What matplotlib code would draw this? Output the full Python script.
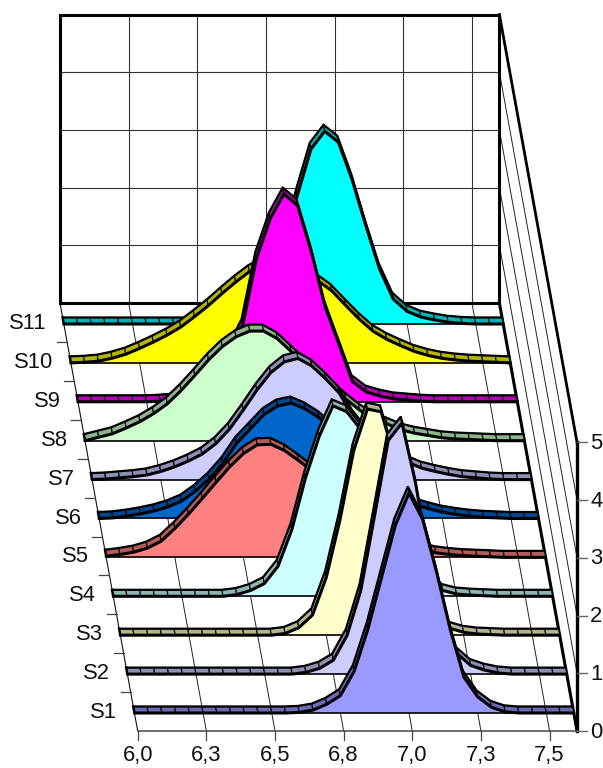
import matplotlib
matplotlib.use("Agg")
import matplotlib.pyplot as plt

plt.rcParams['font.family'] = ['Liberation Sans', 'DejaVu Sans']

series_names = ["S1", "S2", "S3", "S4", "S5", "S6", "S7", "S8", "S9", "S10", "S11"]
x_labels = ["6,0", "6,3", "6,5", "6,8", "7,0", "7,3", "7,5"]
z_labels = ["0", "1", "2", "3", "4", "5"]

s1 = [0,0,0,0,0,0,0,0,0,0,0,0,.01,.05,.15,.3,.72,1.45,2.35,3.25,3.81,3.35,2.45,1.45,.62,.28,.1,.02,0,0,0,0,0]
s2 = [0,0,0,0,0,0,0,0,0,0,0,0,0,.03,.1,.24,.67,1.45,2.74,4.05,4.35,3.3,1.9,.85,.36,.15,.07,.02,0,0,0,0,0]
s3 = [0,0,0,0,0,0,0,0,0,0,0,0,.03,.13,.35,1.0,2.0,3.2,3.92,3.87,3.05,1.4,.7,.3,.12,.05,.02,.01,0,0,0,0,0]
s4 = [0,0,0,0,0,0,0,0,0,.03,.1,.22,.52,1.15,2.05,2.77,3.3,3.2,2.9,2.4,1.7,1.1,.6,.3,.1,.04,.02,.01,0,0,0,0,0]
s5 = [.02,.05,.09,.16,.28,.5,.75,1.02,1.3,1.57,1.8,1.95,1.96,1.85,1.68,1.5,1.3,1.1,.9,.7,.55,.38,.25,.14,.08,.05,.03,.02,.01,0,0,0,0]
s6 = [0,.01,.04,.08,.13,.2,.3,.47,.68,.95,1.3,1.55,1.8,1.95,2.0,1.9,1.75,1.55,1.3,1.05,.85,.62,.45,.24,.17,.11,.07,.04,.02,.01,0,0,0]
s7 = [0,.01,.03,.05,.08,.14,.22,.32,.44,.62,.87,1.2,1.55,1.85,2.04,2.1,1.97,1.75,1.5,1.1,.8,.58,.42,.3,.2,.14,.09,.05,.03,.01,0,0,0]
s8 = [0,.06,.12,.22,.33,.47,.64,.87,1.13,1.4,1.63,1.8,1.9,1.9,1.77,1.55,1.33,1.12,.93,.72,.53,.38,.29,.19,.13,.09,.05,.03,.02,.01,0,0,0]
s9 = [0,0,0,0,0,0,.01,.03,.08,.2,.45,.85,1.32,2.48,3.17,3.6,3.4,2.6,1.65,1.0,.35,.17,.1,.05,.03,.01,0,0,0,0,0,0,0]
s10 = [0,.01,.03,.08,.15,.25,.36,.48,.62,.8,.99,1.2,1.4,1.58,1.7,1.78,1.74,1.6,1.42,1.25,1.0,.76,.55,.41,.3,.2,.13,.08,.05,.03,.02,.01,0]
s11 = [0,0,0,0,0,0,0,0,0,0,.01,.02,.05,.12,.3,.7,1.35,2.22,3.03,3.34,3.15,2.5,1.7,.95,.43,.22,.12,.07,.03,.01,0,0,0]
all_series = [s1, s2, s3, s4, s5, s6, s7, s8, s9, s10, s11]

face_colors = ["#9999FF", "#CCCCFF", "#FFFFCC", "#CCFFFF", "#FF8080", "#0066CC",
               "#CCCCFF", "#CCFFCC", "#FF00FF", "#FFFF00", "#00FFFF"]
ribbon_colors = ["#6B6BB3", "#8F8FB3", "#B3B38F", "#8FB3B3", "#B35A5A", "#00478F",
                 "#8F8FB3", "#8FB38F", "#B300B3", "#B3B300", "#00B3B3"]

PX_X, PX_Z, X0, Y0 = 13.73, 57.7, 137.7, 731.0
SHEAR_X, SHEAR_Z = -7.06 / PX_X, 38.9 / PX_Z
N_BANDS, N_IDX, Z_MAX = 11, 32, 5
FRONT, BACK = 0.463, 0.63


def proj(i, d, z):
    return i + SHEAR_X * d, z + SHEAR_Z * d


fig = plt.figure(figsize=(6.03, 7.68), dpi=100)
ax = fig.add_axes([0, 0, 1, 1])
ax.set_xlim(-X0 / PX_X, (603 - X0) / PX_X)
ax.set_ylim((Y0 - 768) / PX_Z, Y0 / PX_Z)
ax.set_axis_off()


def line(p, q, lw, c="black", zo=1, **kw):
    ax.plot([p[0], q[0]], [p[1], q[1]], color=c, lw=lw, zorder=zo,
            solid_capstyle="projecting", **kw)


GRID = "#333333"
# back wall grid
for z in range(1, Z_MAX):
    line(proj(0, N_BANDS, z), proj(N_IDX, N_BANDS, z), 0.8, GRID)
    line(proj(N_IDX, N_BANDS, z), proj(N_IDX, 0, z), 0.7, "#222222")
for k in range(1, 7):
    line(proj(5 * k, N_BANDS, 0), proj(5 * k, N_BANDS, Z_MAX), 0.8, GRID)
    line(proj(5 * k, N_BANDS, 0), proj(5 * k, 0, 0), 0.7, "#222222")
# walls
line(proj(0, N_BANDS, 0), proj(0, 0, 0), 0.8, "#111111")
line(proj(0, N_BANDS, 0), proj(0, N_BANDS, Z_MAX), 2.2)
line(proj(0, N_BANDS, Z_MAX), proj(N_IDX, N_BANDS, Z_MAX), 2.2)
line(proj(N_IDX, N_BANDS, 0), proj(N_IDX, N_BANDS, Z_MAX), 2.2)
line(proj(0, N_BANDS, 0), proj(N_IDX, N_BANDS, 0), 2.2)
line(proj(N_IDX, N_BANDS, Z_MAX), proj(N_IDX, 0, Z_MAX), 2.0)
line(proj(N_IDX, N_BANDS, 0), proj(N_IDX, 0, 0), 2.2)
line(proj(N_IDX, 0, 0), proj(N_IDX, 0, Z_MAX), 2.4)
line(proj(0, 0, 0), proj(N_IDX, 0, 0), 1.2, "#555555")

# ticks and labels
TICK = "#666666"
for k, lab in enumerate(x_labels):
    p = proj(5 * k, 0, 0)
    ax.plot([p[0], p[0]], [p[1], p[1] - 9 / PX_Z], color="#444444", lw=0.9, zorder=1)
    ax.text(p[0], p[1] - 24 / PX_Z, lab, ha="center", va="center", fontsize=15.8, color="#111111")
for z, lab in enumerate(z_labels):
    p = proj(N_IDX, 0, z)
    ax.plot([p[0], p[0] + 9.5 / PX_X], [p[1], p[1]], color=TICK, lw=1.0, zorder=1)
    ax.text(p[0] + 13 / PX_X, p[1] - 1 / PX_Z, lab, ha="left", va="center", fontsize=15.8, color="#111111")
for b in range(1, N_BANDS):
    p = proj(0, b, 0)
    ax.plot([p[0] - 10 / PX_X, p[0]], [p[1], p[1]], color="#444444", lw=0.9, zorder=1)
for s, name in enumerate(series_names):
    p = proj(0, s + 0.5, 0)
    ax.text(p[0] - 17 / PX_X, p[1] - 1 / PX_Z, name, ha="right", va="center", fontsize=15.8, color="#111111")

# series, from back to front
zo = 10
for s in range(N_BANDS - 1, -1, -1):
    vals = all_series[s]
    idx = list(range(len(vals)))
    f = [proj(i, s + FRONT, v) for i, v in zip(idx, vals)]
    b = [proj(i, s + BACK, v) for i, v in zip(idx, vals)]
    for j in range(len(vals) - 1):
        ax.fill([f[j][0], f[j + 1][0], b[j + 1][0], b[j][0]],
                [f[j][1], f[j + 1][1], b[j + 1][1], b[j][1]],
                facecolor=ribbon_colors[s], edgecolor="black", lw=0.8, zorder=zo)
    zo += 1
    ax.plot([p[0] for p in b], [p[1] for p in b], color="black", lw=1.6, zorder=zo,
            solid_joinstyle="miter", solid_capstyle="round")
    ax.plot([b[0][0], f[0][0]], [b[0][1], f[0][1]], color="black", lw=1.8, zorder=zo)
    zo += 1
    base = [proj(i, s + FRONT, 0) for i in idx]
    ax.fill([p[0] for p in f] + [p[0] for p in base[::-1]],
            [p[1] for p in f] + [p[1] for p in base[::-1]],
            facecolor=face_colors[s], edgecolor="none", zorder=zo)
    zo += 1
    ax.plot([base[0][0], base[-1][0]], [base[0][1], base[-1][1]], color="#111111", lw=1.3, zorder=zo)
    ax.plot([p[0] for p in f], [p[1] for p in f], color="black", lw=2.2, zorder=zo,
            solid_joinstyle="miter", solid_capstyle="round")
    zo += 1

fig.savefig("out.png", dpi=100)
